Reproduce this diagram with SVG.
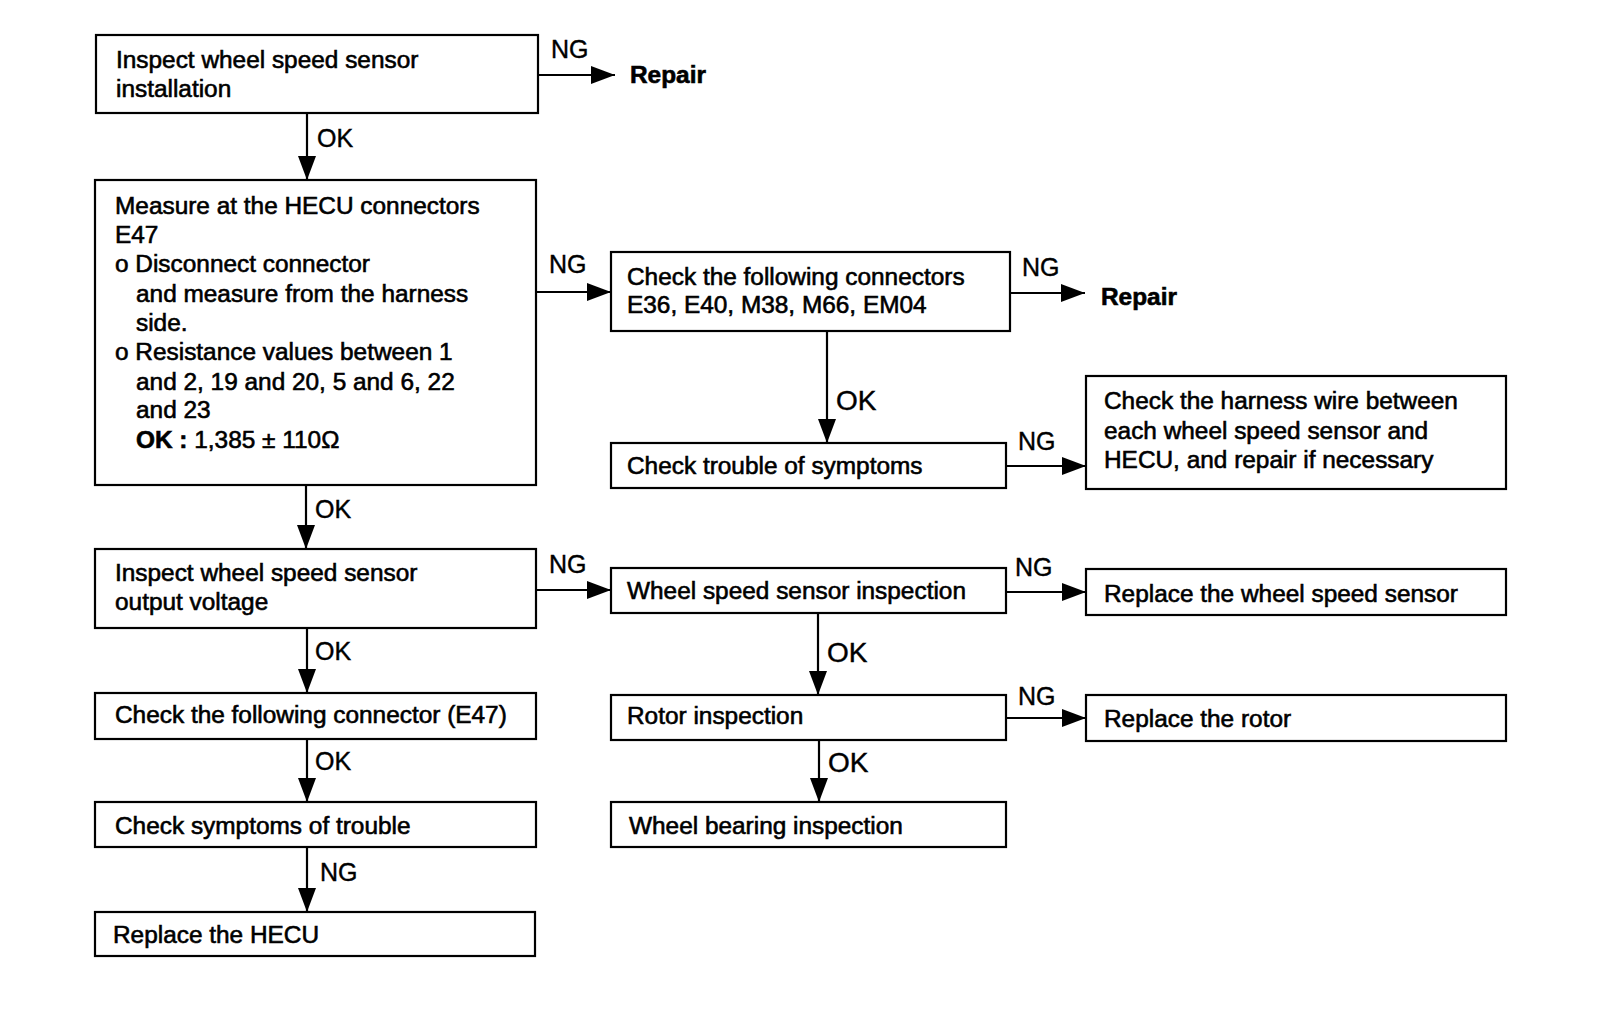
<svg xmlns="http://www.w3.org/2000/svg" width="1600" height="1026" viewBox="0 0 1600 1026">
<defs>
<marker id="ah" markerUnits="userSpaceOnUse" markerWidth="24" markerHeight="18" refX="24" refY="9" orient="auto">
<path d="M0,0 L24,9 L0,18 z" fill="#000"/>
</marker>
<style>
.box{fill:#fff;stroke:#000;stroke-width:2.2}
.t{font-family:"Liberation Sans",Arial,sans-serif;font-size:24.4px;fill:#000;stroke:#000;stroke-width:0.6}
.b{font-weight:bold}
.lbl{font-family:"Liberation Sans",Arial,sans-serif;font-size:25px;fill:#000;stroke:#000;stroke-width:0.4}
.lbl2{font-family:"Liberation Sans",Arial,sans-serif;font-size:28px;fill:#000;stroke:#000;stroke-width:0.4}
.c{stroke:#000;stroke-width:2.2;fill:none;marker-end:url(#ah)}
</style>
</defs>
<rect width="1600" height="1026" fill="#fff"/>

<g id="connectors">
<line class="c" x1="538" y1="75" x2="615" y2="75"/>
<line class="c" x1="307" y1="113" x2="307" y2="180"/>
<line class="c" x1="536" y1="292" x2="611" y2="292"/>
<line class="c" x1="1010" y1="293" x2="1085" y2="293"/>
<line class="c" x1="827" y1="331" x2="827" y2="443"/>
<line class="c" x1="1006" y1="466" x2="1086" y2="466"/>
<line class="c" x1="306" y1="485" x2="306" y2="549"/>
<line class="c" x1="536" y1="590" x2="611" y2="590"/>
<line class="c" x1="1006" y1="592" x2="1086" y2="592"/>
<line class="c" x1="307" y1="628" x2="307" y2="693"/>
<line class="c" x1="818" y1="613" x2="818" y2="695"/>
<line class="c" x1="1006" y1="718" x2="1086" y2="718"/>
<line class="c" x1="307" y1="739" x2="307" y2="802"/>
<line class="c" x1="819" y1="740" x2="819" y2="802"/>
<line class="c" x1="307" y1="847" x2="307" y2="912"/>
<text class="lbl" x="551" y="58">NG</text>
<text class="lbl" x="317" y="147">OK</text>
<text class="lbl" x="549" y="273">NG</text>
<text class="lbl" x="1022" y="276">NG</text>
<text class="lbl2" x="836" y="410">OK</text>
<text class="lbl" x="1018" y="450">NG</text>
<text class="lbl" x="315" y="518">OK</text>
<text class="lbl" x="549" y="573">NG</text>
<text class="lbl" x="1015" y="576">NG</text>
<text class="lbl" x="315" y="660">OK</text>
<text class="lbl2" x="827" y="662">OK</text>
<text class="lbl" x="1018" y="705">NG</text>
<text class="lbl" x="315" y="770">OK</text>
<text class="lbl2" x="828" y="772">OK</text>
<text class="lbl" x="320" y="881">NG</text>
</g>

<g id="repair1"><text class="t b" x="630" y="83">Repair</text></g>
<g id="repair2"><text class="t b" x="1101" y="305">Repair</text></g>

<g id="n1">
<rect class="box" x="96" y="35" width="442" height="78"/>
<text class="t" x="116" y="68">Inspect wheel speed sensor</text>
<text class="t" x="116" y="97">installation</text>
</g>

<g id="n2">
<rect class="box" x="95" y="180" width="441" height="305"/>
<text class="t" x="115" y="214">Measure at the HECU connectors</text>
<text class="t" x="115" y="243">E47</text>
<text class="t" x="115" y="272">o Disconnect connector</text>
<text class="t" x="136" y="302">and measure from the harness</text>
<text class="t" x="136" y="331">side.</text>
<text class="t" x="115" y="360">o Resistance values between 1</text>
<text class="t" x="136" y="390">and 2, 19 and 20, 5 and 6, 22</text>
<text class="t" x="136" y="418">and 23</text>
<text class="t" x="136" y="448"><tspan class="b">OK :</tspan> 1,385 ± 110Ω</text>
</g>

<g id="n3">
<rect class="box" x="611" y="252" width="399" height="79"/>
<text class="t" x="627" y="285">Check the following connectors</text>
<text class="t" x="627" y="313">E36, E40, M38, M66, EM04</text>
</g>

<g id="n4">
<rect class="box" x="611" y="443" width="395" height="45"/>
<text class="t" x="627" y="474">Check trouble of symptoms</text>
</g>

<g id="n5">
<rect class="box" x="1086" y="376" width="420" height="113"/>
<text class="t" x="1104" y="409">Check the harness wire between</text>
<text class="t" x="1104" y="439">each wheel speed sensor and</text>
<text class="t" x="1104" y="468">HECU, and repair if necessary</text>
</g>

<g id="n6">
<rect class="box" x="95" y="549" width="441" height="79"/>
<text class="t" x="115" y="581">Inspect wheel speed sensor</text>
<text class="t" x="115" y="610">output voltage</text>
</g>

<g id="n7">
<rect class="box" x="611" y="568" width="395" height="45"/>
<text class="t" x="627" y="599">Wheel speed sensor inspection</text>
</g>

<g id="n8">
<rect class="box" x="1086" y="569" width="420" height="46"/>
<text class="t" x="1104" y="602">Replace the wheel speed sensor</text>
</g>

<g id="n9">
<rect class="box" x="95" y="693" width="441" height="46"/>
<text class="t" x="115" y="723">Check the following connector (E47)</text>
</g>

<g id="n10">
<rect class="box" x="611" y="695" width="395" height="45"/>
<text class="t" x="627" y="724">Rotor inspection</text>
</g>

<g id="n11">
<rect class="box" x="1086" y="695" width="420" height="46"/>
<text class="t" x="1104" y="727">Replace the rotor</text>
</g>

<g id="n12">
<rect class="box" x="95" y="802" width="441" height="45"/>
<text class="t" x="115" y="834">Check symptoms of trouble</text>
</g>

<g id="n13">
<rect class="box" x="611" y="802" width="395" height="45"/>
<text class="t" x="629" y="834">Wheel bearing inspection</text>
</g>

<g id="n14">
<rect class="box" x="95" y="912" width="440" height="44"/>
<text class="t" x="113" y="943">Replace the HECU</text>
</g>
</svg>
